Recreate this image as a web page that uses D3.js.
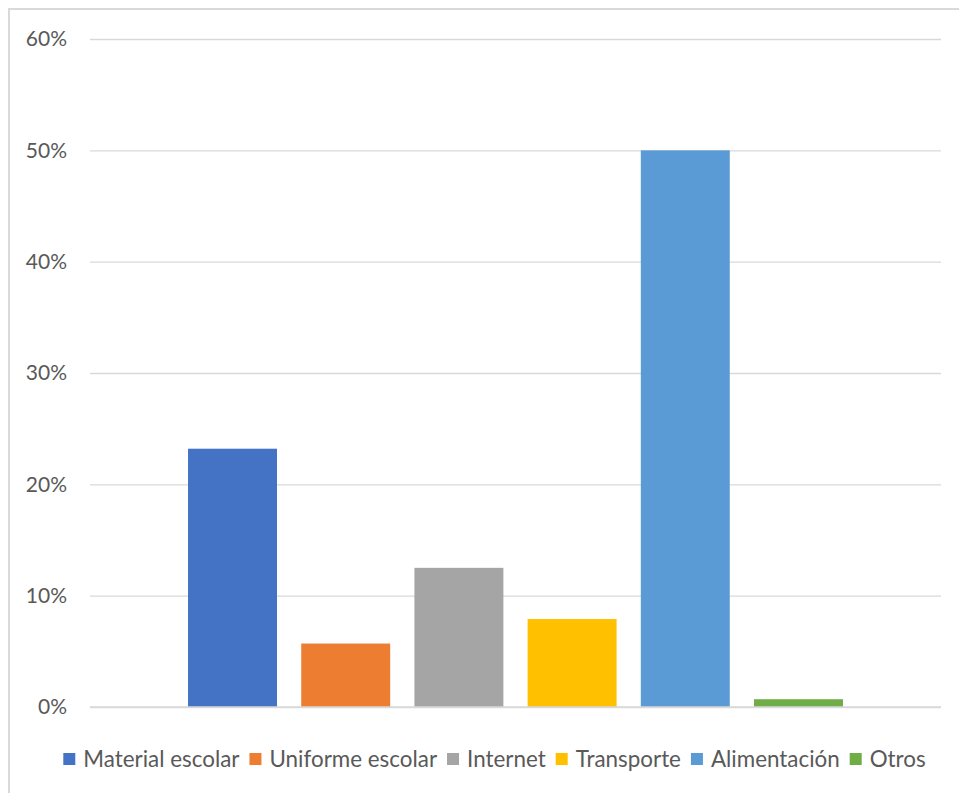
<!DOCTYPE html>
<html><head><meta charset="utf-8">
<script src="https://cdn.jsdelivr.net/npm/d3@7"></script>
<style>html,body{margin:0;padding:0;background:#fff;}svg{display:block;}</style>
</head><body>
<svg id="c" width="959" height="793"></svg>
<script>
const series = ["Material escolar","Uniforme escolar","Internet","Transporte","Alimentación","Otros"];
const values = [0.232, 0.057, 0.125, 0.079, 0.50, 0.007];
const colors = ["#4472C4","#ED7D31","#A5A5A5","#FFC000","#5B9BD5","#70AD47"];
const ticks = [0,0.1,0.2,0.3,0.4,0.5,0.6];

(function(){
const svg = d3.select("#c");
const font = "Lato, 'Open Sans', sans-serif";
const textColor = "#595959";

svg.append("rect").attr("x",9).attr("y",9).attr("width",970).attr("height",800)
  .attr("fill","#fff").attr("stroke","#d9d9d9").attr("stroke-width",2);

const pLeft=90, pRight=941, pTop=39, pBottom=707;
const y = d3.scaleLinear().domain([0,0.6]).range([pBottom,pTop]);
const x = d3.scaleBand().domain(series).range([pLeft,pRight]).paddingInner(0.214).paddingOuter(0.866);

const yAxis = d3.axisLeft(y).tickValues(ticks).tickFormat(d3.format(".0%")).tickSize(-(pRight-pLeft)).tickPadding(23);
const g = svg.append("g").attr("transform",`translate(${pLeft},0)`).call(yAxis);
g.select(".domain").remove();
g.selectAll(".tick line").attr("stroke","#d9d9d9").attr("stroke-width",1.3);
g.selectAll(".tick text").attr("fill",textColor).attr("font-family",font).attr("font-size",21);

svg.append("g").selectAll("rect").data(series).join("rect")
  .attr("x",d=>x(d)).attr("width",x.bandwidth())
  .attr("y",(d,i)=>y(values[i])).attr("height",(d,i)=>y(0)-y(values[i]))
  .attr("fill",(d,i)=>colors[i]);

svg.append("line").attr("x1",pLeft).attr("x2",pRight).attr("y1",y(0)).attr("y2",y(0))
  .attr("stroke","#d9d9d9").attr("stroke-width",1.5);

const lg = svg.append("g");
const items = lg.selectAll("g").data(series).join("g");
items.append("rect").attr("width",12).attr("height",12).attr("y",-6).attr("fill",(d,i)=>colors[i]);
items.append("text").attr("x",20).attr("dy","0.35em").attr("fill",textColor)
  .attr("font-family",font).attr("font-size",22.4).text(d=>d);
let pos=0; const xs=[];
items.each(function(){ xs.push(pos); const w=d3.select(this).select("text").node().getComputedTextLength(); pos += 20 + w + 10; });
const total = pos-10;
const start = 494.5 - total/2;
items.attr("transform",(d,i)=>`translate(${start+xs[i]},759)`);
})();
</script>
</body></html>
